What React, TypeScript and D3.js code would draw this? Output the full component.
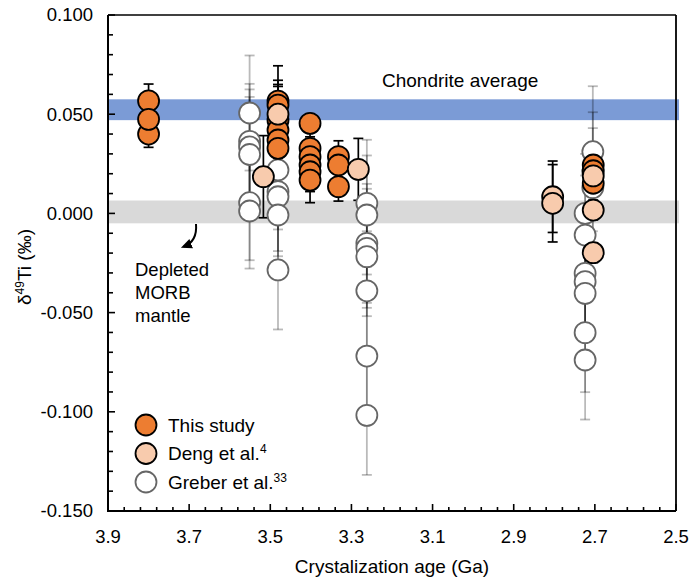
import React from 'react';
import * as d3 from 'd3';

// ---- data (age in Ga, δ49Ti in ‰, 2SD error) ----
const thisStudyAge = [3.8, 3.8, 3.8, 3.481, 3.481, 3.481, 3.481, 3.481, 3.481, 3.402, 3.402, 3.402, 3.402, 3.402, 3.402, 3.332, 3.332, 3.332, 2.704, 2.704, 2.704];
const thisStudyValue = [0.0567, 0.04, 0.0474, 0.0566, 0.0546, 0.047, 0.042, 0.037, 0.0328, 0.0454, 0.0328, 0.0286, 0.0244, 0.021, 0.0168, 0.0286, 0.0244, 0.0135, 0.0244, 0.0215, 0.0152];
const thisStudyErr = [0.0085, 0.0067, 0.008, 0.0178, 0.0125, 0.018, 0.022, 0.008, 0.005, 0.004, 0.01, 0.01, 0.011, 0.01, 0.0114, 0.008, 0.008, 0.0073, 0.004, 0.004, 0.004];

const dengAge = [3.517, 3.481, 3.283, 2.804, 2.804, 2.704, 2.704, 2.704];
const dengValue = [0.0185, 0.05, 0.0222, 0.0084, 0.0051, 0.0189, 0.0017, -0.0198];
const dengErr = [0.0207, 0.005, 0.0156, 0.018, 0.0195, 0.005, 0.005, 0.005];

const greberAge = [3.551, 3.551, 3.551, 3.551, 3.551, 3.551, 3.481, 3.481, 3.481, 3.481, 3.481, 3.262, 3.262, 3.262, 3.262, 3.262, 3.262, 3.262, 3.262, 2.705, 2.705, 2.705, 2.724, 2.724, 2.724, 2.724, 2.724, 2.724, 2.724];
const greberValue = [0.0506, 0.0363, 0.0335, 0.0297, 0.0054, 0.0012, 0.0219, 0.011, 0.0084, -0.0008, -0.0285, 0.0051, -0.0008, -0.0151, -0.0176, -0.0218, -0.039, -0.0719, -0.1018, 0.0311, 0.021, 0.013, 0.0, -0.0109, -0.0302, -0.0344, -0.0403, -0.0601, -0.0739];
const greberErr = [0.029, 0.029, 0.029, 0.029, 0.029, 0.029, 0.03, 0.03, 0.03, 0.03, 0.03, 0.032, 0.03, 0.03, 0.03, 0.03, 0.03, 0.03, 0.03, 0.033, 0.03, 0.03, 0.03, 0.03, 0.03, 0.03, 0.03, 0.03, 0.03];

const chondriteBand = [0.047, 0.0575];
const mantleBand = [-0.005, 0.0065];

const legendLabels = ['This study', 'Deng et al.', 'Greber et al.'];
const legendRefs = ['', '4', '33'];

const FONT = 'Liberation Sans, Arial, Helvetica, sans-serif';
const ORANGE = '#ED7D31';
const PEACH = '#F8CBAD';

export default function App() {
  const x = d3.scaleLinear().domain([3.9, 2.5]).range([108, 676]);
  const y = d3.scaleLinear().domain([-0.15, 0.1]).range([511, 15]);
  const [xl, xr] = x.range();
  const [yb, yt] = y.range();
  const R = 10.5;
  const capW = 5;

  const yTicks = d3.range(-15, 11).map((i) => ({ v: i / 100, major: i % 5 === 0 }));
  const xTicks = d3.range(0, 36).map((i) => ({ v: 3.9 - i * 0.04, major: i % 5 === 0 }));

  const errBar = (a: number, v: number, e: number, key: string, stroke: string, sw: number, op: number) => {
    const cx = x(a);
    return (
      <g key={key} stroke={stroke} strokeWidth={sw} strokeOpacity={op}>
        <line x1={cx} x2={cx} y1={y(v + e)} y2={y(v - e)} />
        <line x1={cx - capW} x2={cx + capW} y1={y(v + e)} y2={y(v + e)} />
        <line x1={cx - capW} x2={cx + capW} y1={y(v - e)} y2={y(v - e)} />
      </g>
    );
  };

  return (
    <svg width={689} height={581} style={{ position: 'absolute', left: 0, top: 0 }} fontFamily={FONT}>
      <defs>
        <marker id="ah" viewBox="0 0 10 10" refX="7" refY="5" markerWidth="11" markerHeight="11" markerUnits="userSpaceOnUse" orient="auto">
          <path d="M0,0.5 L10,5 L0,9.5 z" fill="#000" />
        </marker>
      </defs>
      <rect x={0} y={0} width={689} height={581} fill="#fff" />
      {/* bands */}
      <rect x={xl} y={y(chondriteBand[1])} width={xr + 3 - xl} height={y(chondriteBand[0]) - y(chondriteBand[1])} fill="#7B9BD6" />
      <rect x={xl} y={y(mantleBand[1])} width={xr + 3 - xl} height={y(mantleBand[0]) - y(mantleBand[1])} fill="#D9D9D9" />

      {/* error bars */}
      {greberAge.map((a, i) => errBar(a, greberValue[i], greberErr[i], 'ge' + i, '#000', 1.8, 0.27))}
      {thisStudyAge.map((a, i) => errBar(a, thisStudyValue[i], thisStudyErr[i], 'te' + i, '#000', 1.7, 1))}
      {dengAge.map((a, i) => errBar(a, dengValue[i], dengErr[i], 'de' + i, '#000', 1.7, 1))}

      {/* points */}
      {greberAge.map((a, i) => (
        <circle key={'gp' + i} cx={x(a)} cy={y(greberValue[i])} r={R} fill="#fff" stroke="#666" strokeWidth={1.8} />
      ))}
      {thisStudyAge.map((a, i) => (
        <circle key={'tp' + i} cx={x(a)} cy={y(thisStudyValue[i])} r={R} fill={ORANGE} stroke="#000" strokeWidth={1.8} />
      ))}
      {dengAge.map((a, i) => (
        <circle key={'dp' + i} cx={x(a)} cy={y(dengValue[i])} r={R} fill={PEACH} stroke="#000" strokeWidth={1.8} />
      ))}

      {/* frame */}
      <line x1={xl} x2={xr} y1={yt} y2={yt} stroke="#000" strokeWidth={1.6} />
      <line x1={xr} x2={xr} y1={yt} y2={yb} stroke="#000" strokeWidth={1.8} />
      <line x1={xl} x2={xl} y1={yt} y2={yb + 1} stroke="#000" strokeWidth={2} />
      <line x1={xl - 1} x2={xr} y1={yb} y2={yb} stroke="#000" strokeWidth={2} />

      {/* y ticks */}
      {yTicks.map((t, i) => (
        <g key={'yt' + i}>
          <line x1={xl} x2={xl + (t.major ? 7 : 5)} y1={y(t.v)} y2={y(t.v)} stroke="#000" strokeWidth={1.6} />
          {t.major && (
            <text x={93} y={y(t.v)} dy="0.35em" textAnchor="end" fontSize={18.5} fill="#000">
              {t.v.toFixed(3)}
            </text>
          )}
        </g>
      ))}
      {/* x ticks */}
      {xTicks.map((t, i) => (
        <g key={'xt' + i}>
          <line x1={x(t.v)} x2={x(t.v)} y1={yb} y2={yb - (t.major ? 7 : 4)} stroke="#000" strokeWidth={1.6} />
          {t.major && (
            <text x={x(t.v)} y={543} textAnchor="middle" fontSize={18.5} fill="#000">
              {t.v.toFixed(1)}
            </text>
          )}
        </g>
      ))}

      {/* axis titles */}
      <text x={(xl + xr) / 2} y={573} textAnchor="middle" fontSize={19} fill="#000">
        Crystalization age (Ga)
      </text>
      <text transform="translate(31,267) rotate(-90)" textAnchor="middle" fontSize={19} fill="#000">
        δ<tspan fontSize={12} dy={-7}>49</tspan>
        <tspan dy={7}>Ti (‰)</tspan>
      </text>

      {/* annotations */}
      <text x={382} y={87} fontSize={19} fill="#000">Chondrite average</text>
      <text fontSize={18.5} fill="#000">
        <tspan x={135} y={276}>Depleted</tspan>
        <tspan x={135} y={299}>MORB</tspan>
        <tspan x={135} y={322}>mantle</tspan>
      </text>
      <path d="M196,224 C197,236 193,243 184,246.5" fill="none" stroke="#000" strokeWidth={2} markerEnd="url(#ah)" />

      {/* legend */}
      {legendLabels.map((lab, i) => {
        const ly = 425 + i * 28.5;
        const fill = i === 0 ? ORANGE : i === 1 ? PEACH : '#fff';
        const stroke = i === 2 ? '#666' : '#000';
        return (
          <g key={'lg' + i}>
            <circle cx={146} cy={ly} r={R} fill={fill} stroke={stroke} strokeWidth={1.8} />
            <text x={168} y={ly} dy="0.35em" fontSize={19} fill="#000">
              {lab}
              {legendRefs[i] && (
                <tspan fontSize={12} dy={-7}>{legendRefs[i]}</tspan>
              )}
            </text>
          </g>
        );
      })}
    </svg>
  );
}
